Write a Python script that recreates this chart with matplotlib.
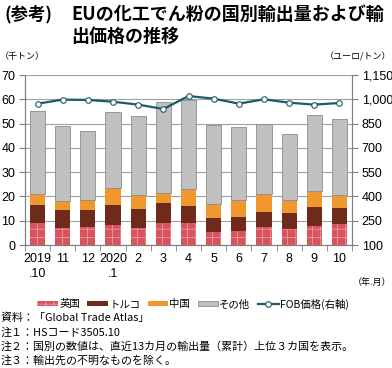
import matplotlib
matplotlib.use('Agg')
import matplotlib.pyplot as plt
from matplotlib.patches import Patch
from matplotlib.lines import Line2D

plt.rcParams['font.family'] = ['Noto Sans CJK JP', 'DejaVu Sans']
plt.rcParams['hatch.linewidth'] = 0.6

months = ['2019\n.10', '11', '12', '2020\n.1', '2', '3', '4', '5', '6', '7', '8', '9', '10']
uk = [9.2, 7.1, 7.3, 8.1, 6.9, 9.1, 8.9, 5.4, 5.9, 7.4, 6.5, 8.0, 8.5]
turkey = [7.4, 7.2, 7.2, 8.5, 7.9, 8.2, 7.3, 5.7, 5.8, 6.1, 6.5, 7.8, 6.9]
china = [4.3, 3.8, 4.2, 7.0, 5.7, 4.1, 7.0, 5.8, 6.7, 7.4, 5.4, 6.3, 5.2]
other = [34.4, 30.8, 28.2, 31.2, 32.5, 37.3, 36.5, 32.7, 30.3, 29.1, 27.4, 31.3, 31.4]
fob = [973, 998, 996, 985, 967, 940, 1020, 1004, 973, 1000, 979, 967, 977]

num_font = ['Liberation Sans', 'DejaVu Sans']

fig = plt.figure(figsize=(3.92, 3.68), dpi=100)
ax = fig.add_axes([25 / 392, 1 - 245 / 368, 327 / 392, 170 / 368])

x = list(range(len(months)))
w = 0.6
b1 = uk
b2 = [a + b for a, b in zip(b1, turkey)]
b3 = [a + b for a, b in zip(b2, china)]

ax.bar(x, uk, w, color='#d9535f', edgecolor='#eb9aa2', hatch='++', linewidth=0, zorder=2)
ax.bar(x, turkey, w, bottom=b1, color='#6e2b1c', linewidth=0, zorder=2)
ax.bar(x, china, w, bottom=b2, color='#f0982e', linewidth=0, zorder=2)
ax.bar(x, other, w, bottom=b3, color='#c0c0c0', edgecolor='#8c8c8c', linewidth=0.6, zorder=2)

ax.set_xlim(-0.5, len(months) - 0.5)
ax.set_ylim(0, 70)
ax.set_yticks(range(0, 71, 10))
ax.yaxis.grid(True, color='#a0a0a0', linewidth=0.8, zorder=0)
ax.set_axisbelow(True)
ax.set_xticks(x)
ax.set_xticklabels(months, fontsize=9, linespacing=1.25, family=num_font)
ax.set_yticklabels([str(v) for v in range(0, 71, 10)], fontsize=9, family=num_font)
ax.set_xticks([i + 0.5 for i in range(-1, len(months))], minor=True)
ax.tick_params(axis='x', which='major', length=0, pad=6)
ax.tick_params(axis='x', which='minor', length=4, color='#808080')
ax.tick_params(axis='y', length=4, color='#808080', pad=3)
ax.spines['top'].set_visible(False)
for s in ['left', 'right', 'bottom']:
    ax.spines[s].set_color('#808080')

ax2 = ax.twinx()
ax2.plot(x, fob, color='#1d5a66', linewidth=1.6, marker='o', markersize=4,
         markerfacecolor='white', markeredgecolor='#1d5a66', markeredgewidth=0.8, zorder=3)
ax2.set_ylim(100, 1150)
ax2.set_yticks(range(100, 1151, 150))
ax2.set_yticklabels(['{:,}'.format(v) for v in range(100, 1151, 150)], fontsize=9, family=num_font)
ax2.tick_params(axis='y', length=4, color='#808080', pad=3)
ax2.spines['top'].set_visible(False)
for s in ['left', 'right', 'bottom']:
    ax2.spines[s].set_color('#808080')

fig.text(4 / 392, 1 - 14 / 368, '(参考)', fontsize=12.5, fontweight='bold', va='center')
fig.text(71 / 392, 1 - 14 / 368, 'EUの化工でん粉の国別輸出量および輸', fontsize=13, fontweight='bold', va='center')
fig.text(71 / 392, 1 - 36 / 368, '出価格の推移', fontsize=13, fontweight='bold', va='center')
fig.text(0 / 392, 1 - 57 / 368, '（千トン）', fontsize=6.5, va='center')
fig.text(391 / 392, 1 - 57 / 368, '（ユーロ/トン）', fontsize=6.5, va='center', ha='right')
fig.text(391 / 392, 1 - 282 / 368, '（年.月）', fontsize=6.5, va='center', ha='right')

handles = [
    Patch(facecolor='#d9535f', edgecolor='#eb9aa2', hatch='++', linewidth=0),
    Patch(facecolor='#6e2b1c', linewidth=0),
    Patch(facecolor='#f0982e', linewidth=0),
    Patch(facecolor='#c0c0c0', edgecolor='#8c8c8c', linewidth=0.6),
    Line2D([0], [0], color='#1d5a66', linewidth=1.6, marker='o', markersize=4,
           markerfacecolor='white', markeredgewidth=0.8),
]
labels = ['英国', 'トルコ', '中国', 'その他', 'FOB価格(右軸)']
fig.legend(handles, labels, loc='center', bbox_to_anchor=(193 / 392, 1 - 304 / 368), ncol=5,
           frameon=False, fontsize=7.5, handlelength=2.0, handleheight=0.4,
           handletextpad=0.1, columnspacing=0.7)

notes = ['資料：「Global Trade Atlas」',
         '注１：HSコード3505.10',
         '注２：国別の数値は、直近13カ月の輸出量（累計）上位３カ国を表示。',
         '注３：輸出先の不明なものを除く。']
for i, n in enumerate(notes):
    fig.text(1 / 392, 1 - (318 + i * 14.3) / 368, n, fontsize=7.9, va='center')

fig.savefig('out.png', dpi=100)
